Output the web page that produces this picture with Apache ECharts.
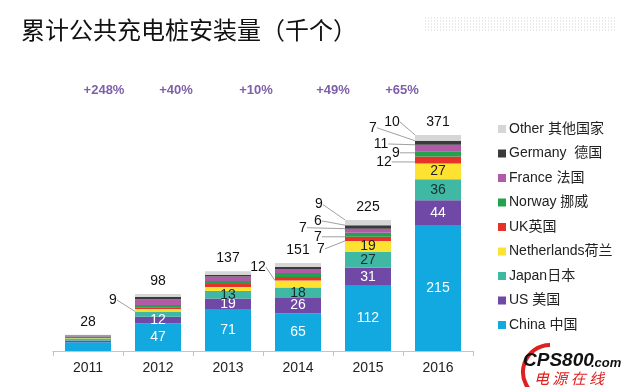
<!DOCTYPE html>
<html><head><meta charset="utf-8">
<script src="https://cdn.jsdelivr.net/npm/echarts@6/dist/echarts.min.js"></script>
<style>html,body{margin:0;padding:0;background:#fff}#c{width:625px;height:387px}</style>
</head><body><div id="c"></div>
<script>
// ---- data (thousand public chargers, cumulative) ----
const years = ['2011', '2012', '2013', '2014', '2015', '2016'];
const china = [15, 47, 71, 65, 112, 215];
const us = [3, 12, 19, 26, 31, 44];
const japan = [3, 9, 13, 18, 27, 36];
const netherlands = [1, 4, 7, 12, 19, 27];
const uk = [0, 3, 5, 6, 7, 12];
const norway = [3, 4, 5, 7, 7, 9];
const france = [1, 10, 8, 6, 7, 11];
const germany = [1, 4, 3, 4, 6, 7];
const other = [1, 5, 6, 7, 9, 10];
const totals = [28, 98, 137, 151, 225, 371];
const growth = ['+248%', '+40%', '+10%', '+49%', '+65%'];
const seriesNames = ['China 中国', 'US 美国', 'Japan日本', 'Netherlands荷兰', 'UK英国', 'Norway 挪威', 'France 法国', 'Germany  德国', 'Other 其他国家'];

// ---- styling / layout config ----
const seriesValues = [china, us, japan, netherlands, uk, norway, france, germany, other];
const colors = ['#12a9e0', '#7048a6', '#3fb8a4', '#fde232', '#e6332a', '#23a24d', '#b15ba8', '#3a3a3a', '#d6d6d6'];
const insideLabel = { // series index -> year indices with inside labels
  0: [1, 2, 3, 4, 5], 1: [1, 2, 3, 4, 5], 2: [2, 3, 4, 5], 3: [4, 5]
};
const insideColor = ['#fff', '#fff', '#16302c', '#222'];
// leader labels: "series-year" -> [dx from bar left, dy from segment centre]
const leader = {
  '2-1': [-22, -14],
  '3-3': [-17, -17],
  '4-4': [-24, 10], '5-4': [-27, 2], '6-4': [-42, -3], '7-4': [-27, -6], '8-4': [-26, -18],
  '4-5': [-31, 2], '5-5': [-19, -1], '6-5': [-34, -4], '7-5': [-42, -15], '8-5': [-23, -16]
};
const FONT = '"Liberation Sans", Arial, "Noto Sans CJK SC", sans-serif';

const series = seriesValues.map((vals, si) => ({
  name: seriesNames[si],
  type: 'bar',
  stack: 'total',
  barWidth: 46,
  itemStyle: { color: colors[si] },
  label: { show: false, fontFamily: FONT, fontSize: 14 },
  labelLine: { show: false, lineStyle: { color: '#a0a0a0', width: 1 } },
  labelLayout: function (p) {
    const k = p.seriesIndex + '-' + p.dataIndex;
    const off = leader[k];
    if (!off) return {};
    return {
      x: p.rect.x + off[0],
      y: p.rect.y + p.rect.height / 2 + off[1],
      align: 'center', verticalAlign: 'middle'
    };
  },
  data: vals.map((v, yi) => {
    const k = si + '-' + yi;
    if (insideLabel[si] && insideLabel[si].indexOf(yi) >= 0) {
      return { value: v, label: { show: true, position: 'inside', color: insideColor[si] } };
    }
    if (leader[k]) {
      return { value: v, label: { show: true, position: 'inside', color: '#111' }, labelLine: { show: true } };
    }
    return v;
  })
}));

series.push({
  name: 'total', type: 'scatter', symbolSize: 0,
  itemStyle: { color: '#000', opacity: 1 },
  label: { show: true, position: 'top', distance: 6, color: '#111', fontSize: 14, fontFamily: FONT },
  data: totals, z: 5
});

const chart = echarts.init(document.getElementById('c'), null, { renderer: 'canvas' });

const dotLines = [18, 21, 24, 27, 30].map(y => ({
  type: 'line', shape: { x1: 425, y1: y, x2: 615, y2: y },
  style: { stroke: '#d4d4d4', lineWidth: 1, lineDash: [1, 2] }, silent: true
}));

const growthX = [104, 176, 256, 333, 402];
const growthText = growth.map((g, i) => ({
  type: 'text', x: growthX[i], y: 90,
  style: { text: g, fill: '#7f5fa9', font: 'bold 13px ' + FONT, textAlign: 'center', textVerticalAlign: 'middle' }
}));

chart.setOption({
  animation: false,
  backgroundColor: '#fff',
  grid: { left: 53, right: 152, top: 118, bottom: 36 },
  xAxis: {
    type: 'category', data: years,
    axisLine: { lineStyle: { color: '#c4c4c4' } },
    axisTick: { show: true, length: 5, lineStyle: { color: '#c4c4c4' } },
    axisLabel: { color: '#222', fontSize: 14, fontFamily: FONT, margin: 10 }
  },
  yAxis: { type: 'value', min: 0, max: 400, show: false, splitLine: { show: false } },
  legend: {
    orient: 'vertical', left: 493, top: 117,
    data: seriesNames.slice().reverse(),
    icon: 'rect', itemWidth: 8, itemHeight: 8, itemGap: 10.5,
    textStyle: { fontSize: 14, color: '#222', fontFamily: FONT, padding: [0, 0, 0, -2] }
  },
  series: series,
  graphic: [
    {
      type: 'text', left: 21, top: 18,
      style: { text: '累计公共充电桩安装量（千个）', fill: '#111', font: '24px "Noto Sans CJK SC", sans-serif' }
    },
    ...dotLines,
    ...growthText,
    { type: 'arc', shape: { cx: 550, cy: 372, r: 27, startAngle: Math.PI * 0.6, endAngle: Math.PI * 1.5 },
      style: { stroke: '#e02020', lineWidth: 4, fill: 'none' } },
    { type: 'text', x: 523, y: 361,
      style: { text: 'CPS800', fill: '#111', font: 'italic bold 19px "Liberation Sans", Arial', textVerticalAlign: 'middle' } },
    { type: 'text', x: 591, y: 363,
      style: { text: '.com', fill: '#111', font: 'italic bold 13px "Liberation Sans", Arial', textVerticalAlign: 'middle' } },
    { type: 'text', x: 534, y: 378,
      style: { text: '电 源 在 线', fill: '#e02020', font: 'italic 15px "Noto Sans CJK SC", sans-serif', textVerticalAlign: 'middle' } }
  ]
});
</script></body></html>
